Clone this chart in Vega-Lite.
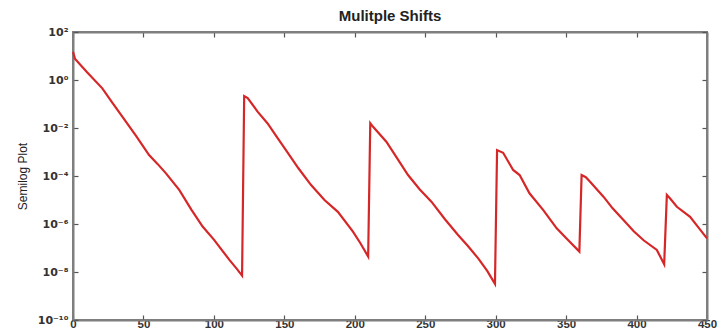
{
  "$schema": "https://vega.github.io/schema/vega-lite/v6.json",
  "width": 634,
  "height": 288,
  "autosize": "none",
  "padding": {"left": 73, "top": 32, "right": 13, "bottom": 15},
  "background": "white",
  "title": {"text": "Mulitple Shifts", "font": "Liberation Sans", "fontSize": 15, "fontWeight": "bold", "color": "#222222", "offset": 2, "anchor": "middle"},
  "config": {
    "view": {"stroke": "#7f7f7f", "strokeWidth": 2},
    "axis": {"domainColor": "#7f7f7f", "domainWidth": 2, "tickColor": "#555555", "tickSize": -5, "tickWidth": 1.2, "grid": false, "labelFont": "Liberation Sans", "labelFontWeight": "bold", "labelFontSize": 11.5, "labelColor": "#333333", "titleFont": "Liberation Sans", "titleFontWeight": "normal", "titleColor": "#222222"}
  },
  "data": {"values": [
    {"x": 0, "y": 14.8}, {"x": 1.5, "y": 7.5}, {"x": 10, "y": 2.1}, {"x": 20.8, "y": 0.45}, {"x": 28, "y": 0.112}, {"x": 35, "y": 0.0295}, {"x": 45, "y": 4.5e-3}, {"x": 54, "y": 7.5e-4}, {"x": 60, "y": 3.2e-4}, {"x": 66, "y": 1.29e-4}, {"x": 75.4, "y": 2.63e-5}, {"x": 84, "y": 4.0e-6}, {"x": 92, "y": 7.8e-7}, {"x": 100, "y": 2.24e-7}, {"x": 111, "y": 3.2e-8}, {"x": 116, "y": 1.41e-8}, {"x": 120, "y": 7.1e-9},
    {"x": 121.5, "y": 0.214}, {"x": 124, "y": 0.178}, {"x": 131, "y": 0.048}, {"x": 138, "y": 0.0158}, {"x": 145, "y": 4.0e-3}, {"x": 152, "y": 1.02e-3}, {"x": 160, "y": 2.1e-4}, {"x": 169, "y": 4.2e-5}, {"x": 178.5, "y": 1e-5}, {"x": 188, "y": 3.2e-6}, {"x": 198.7, "y": 4.8e-7}, {"x": 204, "y": 1.58e-7}, {"x": 209.5, "y": 4.4e-8},
    {"x": 211, "y": 0.0158}, {"x": 213, "y": 0.0112}, {"x": 222.4, "y": 2.7e-3}, {"x": 230, "y": 5.6e-4}, {"x": 237.8, "y": 1.1e-4}, {"x": 246, "y": 2.8e-5}, {"x": 254.4, "y": 8.5e-6}, {"x": 264, "y": 1.58e-6}, {"x": 273.3, "y": 3.5e-7}, {"x": 280, "y": 1.26e-7}, {"x": 287.6, "y": 3.7e-8}, {"x": 294, "y": 1.12e-8}, {"x": 299.5, "y": 3.2e-9},
    {"x": 301, "y": 1.2e-3}, {"x": 305.3, "y": 9.3e-4}, {"x": 312.4, "y": 1.78e-4}, {"x": 317, "y": 1.1e-4}, {"x": 324, "y": 1.9e-5}, {"x": 333.8, "y": 3.8e-6}, {"x": 343.3, "y": 6.6e-7}, {"x": 351, "y": 2.24e-7}, {"x": 359.4, "y": 7.1e-8},
    {"x": 361, "y": 1.1e-4}, {"x": 364, "y": 8.9e-5}, {"x": 367, "y": 5.8e-5}, {"x": 376.5, "y": 1.38e-5}, {"x": 383, "y": 4.5e-6}, {"x": 390.7, "y": 1.48e-6}, {"x": 398, "y": 5e-7}, {"x": 405, "y": 2.1e-7}, {"x": 414.4, "y": 8.3e-8}, {"x": 419.6, "y": 2.1e-8},
    {"x": 421.5, "y": 1.62e-5}, {"x": 424, "y": 1.12e-5}, {"x": 428.6, "y": 5.2e-6}, {"x": 438, "y": 2e-6}, {"x": 444, "y": 7.1e-7}, {"x": 450, "y": 2.5e-7}
  ]},
  "layer": [
    {
      "mark": {"type": "line", "color": "#d62728", "strokeWidth": 2.2, "interpolate": "linear"},
      "encoding": {
        "x": {"field": "x", "type": "quantitative", "scale": {"domain": [0, 450], "nice": false}, "axis": {"values": [0, 50, 100, 150, 200, 250, 300, 350, 400, 450], "title": null, "labelPadding": 3, "labelFlush": false}},
        "y": {"field": "y", "type": "quantitative", "scale": {"type": "log", "domain": [1e-10, 100], "nice": false}, "axis": {"values": [1e-10, 1e-8, 1e-6, 1e-4, 1e-2, 1, 100], "title": "Semilog Plot", "titleFontSize": 12, "titlePadding": 8, "labelPadding": 10, "labelFont": "DejaVu Sans", "labelFontSize": 11, "labelExpr": "datum.value >= 50 ? '10²' : datum.value >= 0.5 ? '10⁰' : datum.value >= 5e-3 ? '10⁻²' : datum.value >= 5e-5 ? '10⁻⁴' : datum.value >= 5e-7 ? '10⁻⁶' : datum.value >= 5e-9 ? '10⁻⁸' : '10⁻¹⁰'"}}
      }
    },
    {
      "mark": {"type": "line", "opacity": 0},
      "encoding": {
        "x": {"field": "x", "type": "quantitative", "axis": {"orient": "top", "values": [0, 50, 100, 150, 200, 250, 300, 350, 400, 450], "labels": false, "title": null}},
        "y": {"field": "y", "type": "quantitative", "scale": {"type": "log"}, "axis": {"orient": "right", "values": [1e-10, 1e-8, 1e-6, 1e-4, 1e-2, 1, 100], "labels": false, "title": null}}
      }
    }
  ],
  "resolve": {"axis": {"x": "independent", "y": "independent"}}
}
